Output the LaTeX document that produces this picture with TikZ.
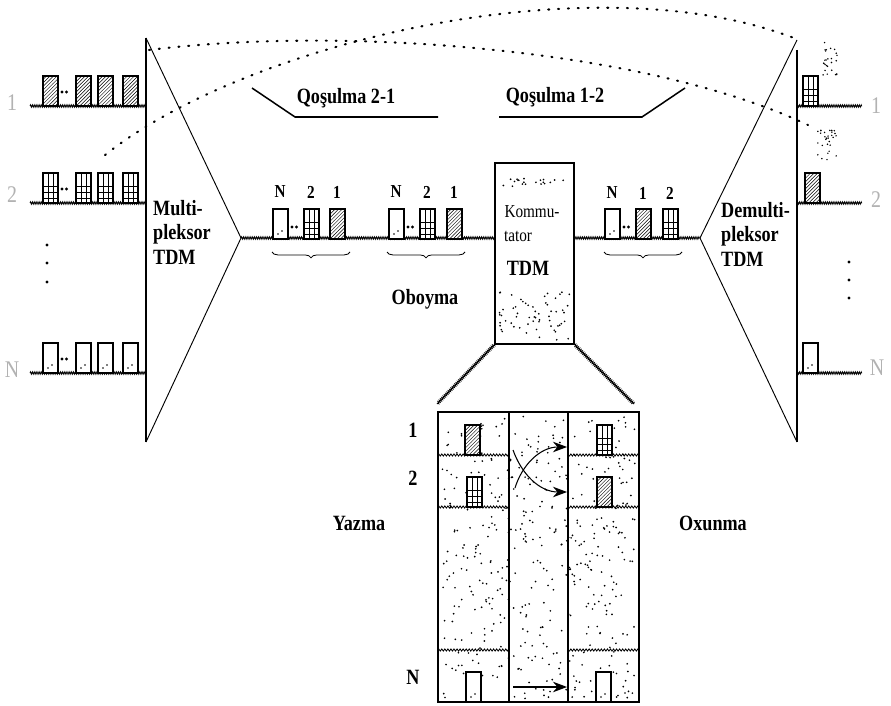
\documentclass[tikz,border=0pt]{standalone}
\usepackage{fontspec}
\setmainfont{Liberation Serif}
\usetikzlibrary{patterns, decorations.pathmorphing, decorations.pathreplacing, arrows.meta}

\newcommand{\tall}[1]{\scalebox{1}[1.2]{#1}}

\tikzset{
  chan/.style={decorate, decoration={zigzag, segment length=1.6pt, amplitude=1pt}, line width=0.7pt},
  cut/.style={decorate, decoration={zigzag, segment length=2.6pt, amplitude=0.9pt}, line width=0.7pt},
  link/.style={line width=1.8pt, line cap=round, dash pattern=on 0.9pt off 7.5pt},
  lbl/.style={font=\bfseries\fontsize{15.5}{21}\selectfont, inner sep=0pt},
  num/.style={font=\bfseries\fontsize{13}{15}\selectfont, inner sep=0pt},
  side/.style={font=\fontsize{17}{19}\selectfont, text=gray!60, inner sep=0pt},
  stip/.style={radius=0.8pt},
  moves/.style={line width=0.9pt, -{Stealth[length=12pt, width=9pt]}},
  hatchbox/.pic={\draw[line width=0.9pt, fill=white, postaction={pattern=north east lines}] (0,0) rectangle (15,-30);},
  winbox/.pic={\draw[line width=0.9pt, fill=white] (0,0) rectangle (15,-30);
    \draw[line width=0.6pt] (5,0) -- (5,-30) (10,0) -- (10,-30) (0,-5) -- (15,-5) (0,-11) -- (15,-11) (0,-17) -- (15,-17);},
  doorbox/.pic={\draw[line width=0.9pt, fill=white] (0,0) rectangle (15,-30);
    \fill (5,-5) circle (0.7pt) (9,-8) circle (0.7pt);},
  dotpair/.pic={\fill (0,0) circle (1.3pt) (4.5,0) circle (1.3pt);},
}

\begin{document}
\begin{tikzpicture}[x=0.03cm, y=-0.03cm]
  \useasboundingbox (0,0) rectangle (891,706);

  % multiplexor and demultiplexor
  \coordinate (muxO) at (241,238);
  \coordinate (demuxI) at (700,238);
  \draw[line width=1pt] (146,38) -- (146,442);
  \draw[line width=0.8pt] (146,38) -- (muxO) -- (146,442);
  \draw[line width=1pt] (797,50) -- (797,442);
  \draw[line width=0.8pt] (797,40) -- (demuxI) -- (797,442);
  \node[lbl, align=left, anchor=north west] (muxtxt) at (153,200) {\tall{Multi-}\\\tall{pleksor}\\\tall{TDM}};
  \node[lbl, align=left, anchor=north west] (demuxtxt) at (721,202) {\tall{Demulti-}\\\tall{pleksor}\\\tall{TDM}};

  % input channels
  \foreach \y in {106,203,373}
    \draw[chan] (30,\y) -- (146,\y);
  \foreach \x in {43,76,98,123} {
    \pic at (\x,106) {hatchbox};
    \pic at (\x,203) {winbox};
    \pic at (\x,373) {doorbox};
  }
  \foreach \y in {92,189,359}
    \pic at (62,\y) {dotpair};
  \node[side] (in1) at (12,103) {\tall{1}};
  \node[side] (in2) at (12,195) {\tall{2}};
  \node[side] (inN) at (12,370) {\tall{N}};
  \foreach \y in {245,263,282}
    \fill (47,\y) circle (1.4pt);

  % output channels
  \foreach \y in {106,203,373}
    \draw[chan] (797,\y) -- (862,\y);
  \pic at (803,106) {winbox};
  \pic at (805,203) {hatchbox};
  \pic at (803,373) {doorbox};
  \node[side] (out1) at (876,106) {\tall{1}};
  \node[side] (out2) at (876,200) {\tall{2}};
  \node[side] (outN) at (877,368) {\tall{N}};
  \foreach \y in {262,280,298}
    \fill (849,\y) circle (1.4pt);

  % commutator
  \node[draw, line width=1.1pt, minimum width=2.37cm, minimum height=5.43cm, inner sep=0pt] (komm) at (534.5,253.5) {};
  \node[font=\fontsize{13}{15}\selectfont, inner sep=0pt] (kommA) at (532,212) {\tall{Kommu-}};
  \node[font=\fontsize{13}{15}\selectfont, inner sep=0pt] (kommB) at (518,236) {\tall{tator}};
  \node[lbl] (kommC) at (528,268) {\tall{TDM}};
  \pgfmathsetseed{11}
  \foreach \i in {1,...,20}
    \fill[stip] ({503+64*rnd},{178+9*rnd}) circle;
  \foreach \i in {1,...,60}
    \fill[stip] ({499+71*rnd},{292+49*rnd}) circle;

  % frames on the trunk
  \draw[chan] (muxO) -- (muxO -| komm.west);
  \draw[chan] (komm.east |- demuxI) -- (demuxI);
  \pic at (273,239) {doorbox};
  \pic at (292,227) {dotpair};
  \pic at (304,239) {winbox};
  \pic at (330,239) {hatchbox};
  \pic at (389,239) {doorbox};
  \pic at (408,227) {dotpair};
  \pic at (420,239) {winbox};
  \pic at (447,239) {hatchbox};
  \pic at (605,239) {doorbox};
  \pic at (624,227) {dotpair};
  \pic at (636,239) {hatchbox};
  \pic at (663,239) {winbox};
  \node[num] (fa1) at (280,192) {\tall{N}};
  \node[num] (fa2) at (311,192) {\tall{2}};
  \node[num] (fa3) at (337,192) {\tall{1}};
  \node[num] (fb1) at (396,192) {\tall{N}};
  \node[num] (fb2) at (427,192) {\tall{2}};
  \node[num] (fb3) at (454,192) {\tall{1}};
  \node[num] (fc1) at (612,193) {\tall{N}};
  \node[num] (fc2) at (643,193) {\tall{1}};
  \node[num] (fc3) at (670,193) {\tall{2}};
  \foreach \a/\b in {272/350, 387/465, 604/682}
    \draw[decorate, decoration={brace, mirror, amplitude=5pt}, line width=0.7pt] (\a,252) -- (\b,252);
  \node[lbl] (oboyma) at (425,299) {\tall{Oboyma}};

  % connections
  \coordinate (lnk1a) at (105,155);
  \coordinate (lnk1b) at (799,40);
  \coordinate (lnk2a) at (149,50);
  \coordinate (lnk2b) at (808,125);
  \draw[link] (lnk1a) .. controls (250,40) and (600,-40) .. (lnk1b);
  \draw[link] (lnk2a) .. controls (350,25) and (650,50) .. (lnk2b);
  \foreach \i in {1,...,26}
    \fill[radius=0.7pt] ({823+15*rnd},{42+33*rnd}) circle;
  \foreach \i in {1,...,30}
    \fill[radius=0.7pt] ({817+24*rnd},{130+30*rnd}) circle;
  \draw[line width=1.3pt] (252,88) -- (295,117) -- (438,117);
  \draw[line width=1.3pt] (499,117) -- (642,117) -- (685,88);
  \node[lbl] (qos21) at (346,98) {\tall{Qoşulma 2-1}};
  \node[lbl] (qos12) at (555,97) {\tall{Qoşulma 1-2}};

  % expanded commutator memory
  \coordinate (expNW) at (438,412);
  \coordinate (expSE) at (639,702);
  \draw[chan] (komm.south west) -- (437,404);
  \draw[chan] (komm.south east) -- (634,404);
  \foreach \i in {1,...,480}
    \fill[stip] ({442+194*rnd},{416+283*rnd}) circle;
  \draw[line width=1.1pt] (expNW) rectangle (expSE);
  \draw[line width=1.1pt] (509,412) -- (509,702) (568,412) -- (568,702);
  \foreach \y in {455,507,650}
    \draw[cut] (438,\y) -- (509,\y) (568,\y) -- (639,\y);
  \pic at (465,455) {hatchbox};
  \pic at (597,455) {winbox};
  \pic at (467,507) {winbox};
  \pic at (597,507) {hatchbox};
  \pic at (466,702) {doorbox};
  \pic at (596,702) {doorbox};
  \node[lbl] (row1) at (413,430) {\tall{1}};
  \node[lbl] (row2) at (413,478) {\tall{2}};
  \node[lbl] (rowN) at (413,677) {\tall{N}};
  \node[lbl] (yazma) at (359,523) {\tall{Yazma}};
  \node[lbl] (oxunma) at (713,523) {\tall{Oxunma}};
  \coordinate (w1) at (513,450);
  \coordinate (w2) at (515,488);
  \coordinate (wN) at (513,687);
  \coordinate (r1) at (567,447);
  \coordinate (r2) at (567,492);
  \coordinate (rN) at (567,687);
  \draw[moves] (w2) .. controls (522,465) and (540,447) .. (r1);
  \draw[moves] (w1) .. controls (522,475) and (540,492) .. (r2);
  \draw[moves] (wN) -- (rN);
\end{tikzpicture}
\end{document}
